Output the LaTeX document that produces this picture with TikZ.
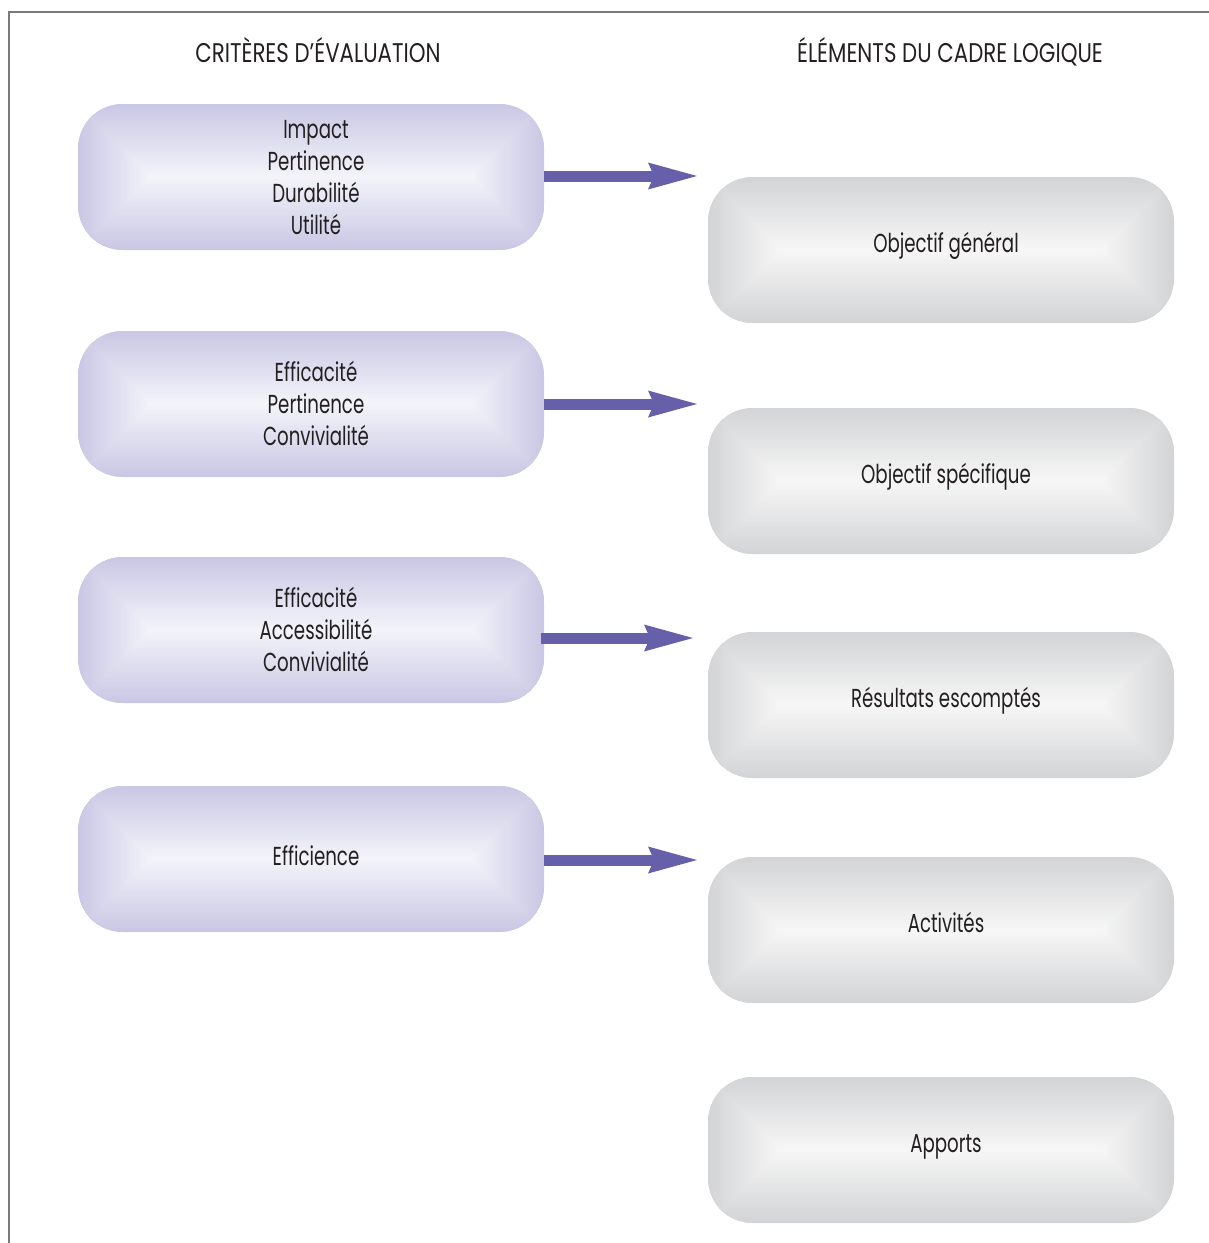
\documentclass[tikz,border=0pt]{standalone}
\usepackage{fontspec}
\setmainfont{Poppins}[FakeStretch=0.7]
\newfontfamily\headfont{Poppins}[FakeStretch=0.79]
\usetikzlibrary{arrows.meta,calc}

\definecolor{arrowviolet}{HTML}{6660AA}
\definecolor{lavouter}{HTML}{C9C7E4}
\definecolor{lavinner}{HTML}{F3F3F9}
\definecolor{grayouter}{HTML}{D3D4D6}
\definecolor{grayinner}{HTML}{F6F6F6}
\definecolor{framegray}{HTML}{7A7A7A}
\definecolor{ink}{HTML}{231F20}

% centred stack of lines, nudged right by 5pt and moved up by the optional amount
% (the box keeps its natural size, so the node outline does not move)
\newcommand{\boxlines}[2][0pt]{\hspace*{10pt}\raisebox{#1}[\height][\depth]{\begin{tabular}{@{}c@{}}#2\end{tabular}}}

\tikzset{
  % rectangular gradient built from nested rectangles, outer colour to inner colour
  rectgrad/.style 2 args={
    fill=#1,
    path picture={
      \foreach \k in {0,...,45} {
        \pgfmathsetmacro\inset{\k*73/46}
        \pgfmathsetmacro\mix{100*\k/45}
        \fill[sharp corners, #2!\mix!#1]
          ($(path picture bounding box.north west)+(\inset,\inset)$) rectangle
          ($(path picture bounding box.south east)+(-\inset,-\inset)$);
      }
    }},
  roundbox/.style={rounded corners=45, minimum width=466, minimum height=146,
    inner sep=0pt, text=ink, font=\fontsize{26}{32}\selectfont},
  critbox/.style={roundbox, rectgrad={lavouter}{lavinner}},
  elembox/.style={roundbox, rectgrad={grayouter}{grayinner}},
  header/.style={anchor=base, text=ink, font=\headfont\fontsize{27}{32}\selectfont},
  link/.style={draw=arrowviolet, line width=11pt,
    -{Stealth[length=49pt,width=27pt,inset=6pt,line width=0pt]}},
  framestroke/.style={draw=framegray, line width=1.4pt}
}

\begin{document}
\begin{tikzpicture}[x=1pt,y=-1pt]
  \useasboundingbox (0,0) rectangle (1209,1243);

  % outer frame (top and left edges)
  \coordinate (fa) at (1209,12);
  \coordinate (fb) at (9,12);
  \coordinate (fc) at (9,1243);
  \draw[framestroke] (fa) -- (fb) -- (fc);

  % column headings
  \node[header] (hcrit) at (318,62) {CRITÈRES D’ÉVALUATION};
  \node[header] (helem) at (950,62) {ÉLÉMENTS DU CADRE LOGIQUE};

  % evaluation criteria
  \node[critbox] (c1) at (311,177) {\boxlines[-3pt]{Impact\\Pertinence\\Durabilité\\Utilité}};
  \node[critbox] (c2) at (311,404) {\boxlines[-3pt]{Efficacité\\Pertinence\\Convivialité}};
  \node[critbox] (c3) at (311,630) {\boxlines[-3pt]{Efficacité\\Accessibilité\\Convivialité}};
  \node[critbox] (c4) at (311,859) {\boxlines{Efficience}};

  % logical framework elements
  \node[elembox] (e1) at (941,250) {\boxlines[4pt]{Objectif général}};
  \node[elembox] (e2) at (941,481) {\boxlines[4pt]{Objectif spécifique}};
  \node[elembox] (e3) at (941,705) {\boxlines[4pt]{Résultats escomptés}};
  \node[elembox] (e4) at (941,930) {\boxlines[4pt]{Activités}};
  \node[elembox] (e5) at (941,1150) {\boxlines[4pt]{Apports}};

  % arrows from criteria towards the framework column
  \coordinate (t1) at (697,176);
  \coordinate (t2) at (697,404);
  \coordinate (t3) at (693,638);
  \coordinate (t4) at (697,860);
  \draw[link] (c1.east |- t1) -- (t1);
  \draw[link] (c2.east |- t2) -- (t2);
  \draw[link] ([xshift=-3pt]c3.east |- t3) -- (t3);
  \draw[link] (c4.east |- t4) -- (t4);
\end{tikzpicture}
\end{document}
